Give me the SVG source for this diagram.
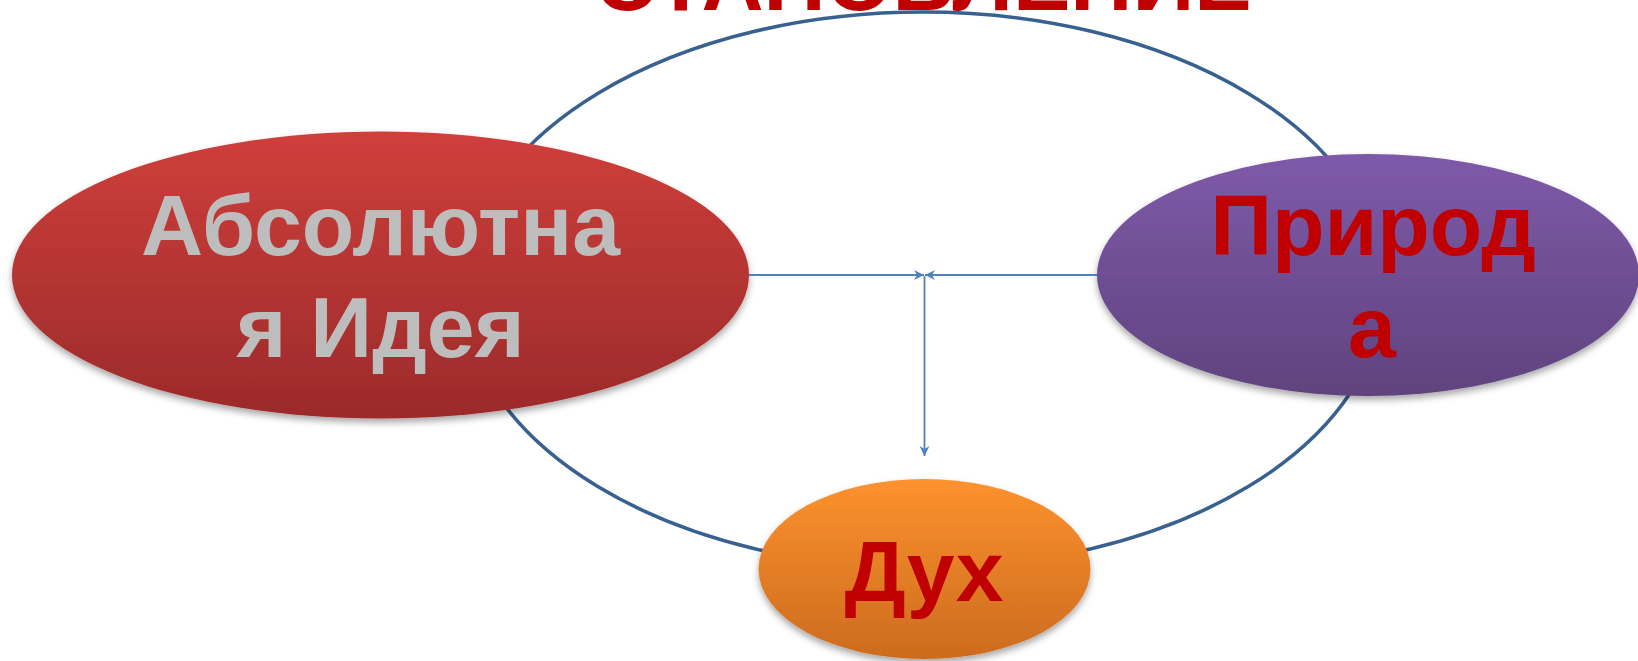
<svg xmlns="http://www.w3.org/2000/svg" width="1638" height="661" viewBox="0 0 1638 661">
<style>
.t{font-family:"Liberation Sans",Arial,sans-serif;font-weight:bold;font-size:86px;text-anchor:middle}
.red{fill:#c00000}
.gray{fill:#bdbdbd}
.conn{stroke:#4f81bd;stroke-width:1.8;fill:none}
</style>
<defs>
<linearGradient id="gRed" x1="0" y1="0" x2="0" y2="1"><stop offset="0" stop-color="#cf3f3b"/><stop offset="1" stop-color="#9b2a2a"/></linearGradient>
<linearGradient id="gPur" x1="0" y1="0" x2="0" y2="1"><stop offset="0" stop-color="#7e5aa9"/><stop offset="1" stop-color="#5f437e"/></linearGradient>
<linearGradient id="gOr" x1="0" y1="0" x2="0" y2="1"><stop offset="0" stop-color="#fd922e"/><stop offset="1" stop-color="#cc6b1e"/></linearGradient>
<filter id="sh" x="-10%" y="-10%" width="120%" height="130%"><feDropShadow dx="0" dy="4" stdDeviation="3.5" flood-color="#000" flood-opacity="0.35"/></filter>
<marker id="ar" viewBox="0 0 10 10" refX="10" refY="5" markerWidth="10" markerHeight="10" markerUnits="userSpaceOnUse" orient="auto"><path d="M0,0 L10,5 L0,10 L3,5 Z" fill="#4f81bd"/></marker>
</defs>
<text class="t red" x="923" y="10" font-size="82">СТАНОВЛЕНИЕ</text>
<g id="cycle"><ellipse cx="923" cy="290" rx="460" ry="278" fill="none" stroke="#386190" stroke-width="3.5"/></g>
<g id="node-idea"><ellipse cx="380.5" cy="275" rx="368.5" ry="143.5" fill="url(#gRed)" filter="url(#sh)"/><text class="t gray" x="380.5" y="255">Абсолютна</text><text class="t gray" x="380.5" y="357">я Идея</text></g>
<g id="node-nature"><ellipse cx="1368" cy="275" rx="271" ry="121" fill="url(#gPur)" filter="url(#sh)"/><text class="t red" x="1373" y="255">Природ</text><text class="t red" x="1372" y="357">а</text></g>
<g id="node-spirit"><ellipse cx="924.5" cy="569" rx="166" ry="90" fill="url(#gOr)" filter="url(#sh)"/><text class="t red" x="924" y="601">Дух</text></g>
<g id="connectors">
<line class="conn" x1="749" y1="275" x2="924" y2="275" marker-end="url(#ar)"/>
<line class="conn" x1="1097" y1="275" x2="925" y2="275" marker-end="url(#ar)"/>
<line class="conn" x1="924.5" y1="276" x2="924.5" y2="456" marker-end="url(#ar)"/>
</g>
</svg>
